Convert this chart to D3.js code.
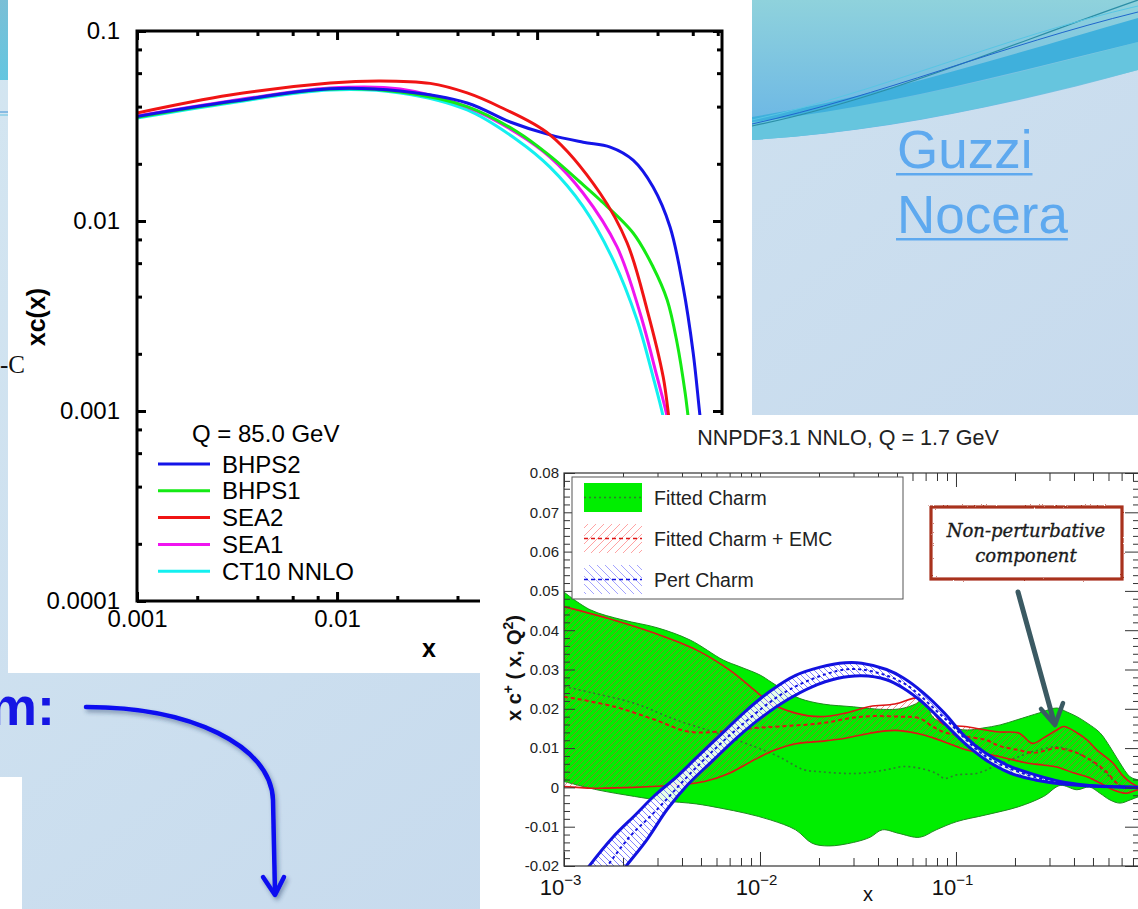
<!DOCTYPE html>
<html>
<head>
<meta charset="utf-8">
<script src="https://cdn.jsdelivr.net/npm/d3@7"></script>
<style>
  html, body { margin: 0; padding: 0; background: #cfe1ef; overflow: hidden; }
  svg { display: block; }
</style>
</head>
<body>
<svg id="slide" width="1138" height="909"></svg>
<script>
// ---------------- data: charm PDF at Q = 85 GeV (log-log panel) ----------------
const leftNames  = ["BHPS2", "BHPS1", "SEA2", "SEA1", "CT10 NNLO"];
const leftColors = ["#1414e8", "#14ea14", "#f01414", "#f014f0", "#14f0f0"];
// [x, xc(x)]
const bhps2 = [[0.001,0.0355],[0.00292,0.0425],[0.00923,0.0497],[0.0207,0.0483],[0.0447,0.0418],[0.0733,0.0332],[0.116,0.0284],[0.170,0.0260],[0.232,0.0245],[0.302,0.0209],[0.380,0.0151],[0.462,0.0093],[0.537,0.0045],[0.603,0.00202],[0.653,0.00093],[0.70,0.0005]];
const bhps1 = [[0.001,0.0352],[0.00292,0.0423],[0.00923,0.0495],[0.0207,0.0478],[0.0447,0.0400],[0.0794,0.0295],[0.116,0.0220],[0.170,0.0155],[0.2065,0.0129],[0.302,0.00865],[0.380,0.00573],[0.447,0.00384],[0.501,0.00228],[0.550,0.00124],[0.569,0.00093],[0.60,0.0006]];
const sea2  = [[0.001,0.0370],[0.00292,0.0460],[0.00923,0.0532],[0.0164,0.0546],[0.0292,0.0530],[0.0447,0.0472],[0.0653,0.0398],[0.116,0.0284],[0.2065,0.0140],[0.282,0.00766],[0.355,0.0034],[0.427,0.00151],[0.457,0.0009],[0.49,0.0005]];
const sea1  = [[0.001,0.0357],[0.00292,0.0428],[0.00923,0.0501],[0.0207,0.0495],[0.0447,0.0398],[0.0794,0.0290],[0.116,0.0217],[0.170,0.0140],[0.251,0.0073],[0.327,0.00328],[0.398,0.00151],[0.447,0.00093],[0.48,0.0006]];
const ct10  = [[0.001,0.0348],[0.00292,0.0418],[0.00923,0.0489],[0.0207,0.0472],[0.0447,0.0384],[0.0794,0.0267],[0.116,0.0192],[0.170,0.0119],[0.240,0.00624],[0.316,0.00301],[0.380,0.00151],[0.427,0.00093],[0.46,0.0006]];
const leftSeries = [bhps2, bhps1, sea2, sea1, ct10];
const leftYTicks = [0.1, 0.01, 0.001, 0.0001];
const leftYLabels = ["0.1", "0.01", "0.001", "0.0001"];
const leftXTicks = [0.001, 0.01, 0.1];
const leftXLabels = ["0.001", "0.01", ""];

// ---------------- data: NNPDF3.1 NNLO charm at Q = 1.7 GeV ----------------
// Fitted Charm band and central value
const greenUpper = [[0.001,0.0497],[0.00136,0.0452],[0.002,0.0426],[0.003,0.0406],[0.0044,0.0375],[0.0065,0.0324],[0.0079,0.0307],[0.0100,0.0286],[0.0114,0.0268],[0.0135,0.0245],[0.016,0.0226],[0.021,0.0212],[0.030,0.0205],[0.040,0.0199],[0.052,0.0200],[0.062,0.0212],[0.068,0.0225],[0.072,0.0205],[0.076,0.0180],[0.093,0.0154],[0.114,0.0146],[0.137,0.0151],[0.168,0.0159],[0.205,0.0172],[0.268,0.0190],[0.327,0.0202],[0.368,0.0192],[0.414,0.0180],[0.466,0.0164],[0.543,0.0139],[0.611,0.0103],[0.687,0.0062],[0.773,0.0027],[0.85,0.0019],[0.9,0.0015]];
const greenLower = [[0.001,0.0015],[0.00147,-0.0006],[0.00229,-0.0023],[0.0032,-0.0034],[0.00473,-0.0042],[0.00633,-0.0053],[0.00848,-0.0066],[0.01135,-0.0083],[0.0152,-0.0108],[0.01845,-0.0142],[0.0224,-0.0149],[0.030,-0.0140],[0.0364,-0.0127],[0.0421,-0.0108],[0.0511,-0.0117],[0.0652,-0.0127],[0.0792,-0.0108],[0.101,-0.0087],[0.142,-0.0070],[0.209,-0.0049],[0.280,-0.0023],[0.340,0.0005],[0.414,-0.0006],[0.48,0.0001],[0.543,-0.0015],[0.611,-0.0032],[0.687,-0.0040],[0.773,-0.0032],[0.85,-0.0024],[0.9,-0.0020]];
const greenCentral = [[0.001,0.0257],[0.00141,0.0240],[0.00229,0.0214],[0.00372,0.0172],[0.00604,0.0138],[0.00934,0.0104],[0.0125,0.0078],[0.0167,0.0045],[0.0203,0.0040],[0.0259,0.0036],[0.033,0.0036],[0.0442,0.0045],[0.0537,0.0053],[0.0652,0.0049],[0.0792,0.0036],[0.0873,0.0023],[0.101,0.0032],[0.129,0.0036],[0.164,0.0058],[0.209,0.0078],[0.250,0.0092],[0.327,0.0103],[0.397,0.0092],[0.48,0.0070],[0.58,0.0037],[0.687,0.0005],[0.847,0.0002],[0.9,0.0001]];
// Fitted Charm + EMC band and central value
const redUpper = [[0.001,0.0460],[0.00179,0.0426],[0.00291,0.0392],[0.00473,0.0350],[0.00698,0.0299],[0.00934,0.0248],[0.01135,0.0214],[0.0152,0.0189],[0.0203,0.0180],[0.0272,0.0189],[0.0364,0.0206],[0.0488,0.0212],[0.0655,0.0228],[0.0737,0.0205],[0.0855,0.0162],[0.111,0.0155],[0.142,0.0146],[0.1675,0.0141],[0.21,0.0138],[0.245,0.0112],[0.28,0.0126],[0.327,0.0146],[0.355,0.0155],[0.414,0.0139],[0.466,0.0121],[0.524,0.0095],[0.632,0.0062],[0.709,0.0030],[0.78,0.0012],[0.85,0.0002],[0.9,0.0000]];
const redLower = [[0.001,0.0002],[0.00141,-0.0002],[0.00229,0.0000],[0.00372,0.0006],[0.00521,0.0015],[0.00698,0.0036],[0.00934,0.0070],[0.0119,0.0095],[0.0152,0.0111],[0.0203,0.0117],[0.0272,0.0125],[0.0364,0.0138],[0.0488,0.0145],[0.0652,0.0136],[0.0764,0.0126],[0.0961,0.0108],[0.1137,0.0095],[0.1675,0.0078],[0.23,0.0062],[0.277,0.0057],[0.327,0.0052],[0.397,0.0037],[0.466,0.0027],[0.543,0.0011],[0.632,-0.0006],[0.742,-0.0015],[0.85,-0.0006],[0.9,-0.0010]];
const redCentral = [[0.001,0.0231],[0.00179,0.0206],[0.00291,0.0172],[0.0043,0.0142],[0.00633,0.0142],[0.00934,0.0151],[0.0125,0.0155],[0.0203,0.0163],[0.033,0.0180],[0.0518,0.0180],[0.0652,0.0176],[0.0764,0.0154],[0.0873,0.0140],[0.1137,0.0129],[0.142,0.0121],[0.1675,0.0105],[0.209,0.0095],[0.25,0.0088],[0.327,0.0100],[0.37,0.0095],[0.414,0.0088],[0.5,0.0066],[0.58,0.0042],[0.65,0.0015],[0.705,0.0002],[0.8,0.0001],[0.9,-0.0004]];
// Perturbative charm band and central value
const blueUpper = [[0.00116,-0.0244],[0.00134,-0.0201],[0.00179,-0.0125],[0.00229,-0.0072],[0.00291,-0.0020],[0.00372,0.0025],[0.00473,0.0075],[0.00633,0.0135],[0.00848,0.0195],[0.01135,0.0246],[0.0152,0.0285],[0.0203,0.0306],[0.0272,0.0317],[0.033,0.0316],[0.0442,0.0300],[0.0537,0.0279],[0.0684,0.0240],[0.0873,0.0189],[0.111,0.0130],[0.142,0.0087],[0.19,0.0053],[0.254,0.0032],[0.34,0.0015],[0.455,0.0006],[0.61,0.0002],[0.9,0.0000]];
const blueLower = [[0.00178,-0.0244],[0.00207,-0.0201],[0.00264,-0.0134],[0.00337,-0.0055],[0.0043,0.0008],[0.00574,0.0068],[0.00769,0.0128],[0.0103,0.0180],[0.0138,0.0223],[0.01845,0.0256],[0.0247,0.0277],[0.033,0.0284],[0.0442,0.0274],[0.0537,0.0253],[0.0684,0.0214],[0.0873,0.0163],[0.111,0.0112],[0.142,0.0070],[0.19,0.0036],[0.254,0.0019],[0.34,0.0009],[0.455,0.0004],[0.9,-0.0001]];
const blueCentral = [[0.00145,-0.0244],[0.00166,-0.0201],[0.00217,-0.0125],[0.00291,-0.0062],[0.00473,0.0051],[0.00769,0.0150],[0.0138,0.0246],[0.0247,0.0296],[0.033,0.0300],[0.0537,0.0266],[0.0873,0.0176],[0.142,0.0079],[0.254,0.0026],[0.455,0.0005],[0.9,0.0000]];
const rightLegend = ["Fitted Charm", "Fitted Charm + EMC", "Pert Charm"];
const rightYTicks = [-0.02, -0.01, 0, 0.01, 0.02, 0.03, 0.04, 0.05, 0.06, 0.07, 0.08];
const rightYLabels = ["-0.02", "-0.01", "0", "0.01", "0.02", "0.03", "0.04", "0.05", "0.06", "0.07", "0.08"];
const rightXTicks = [0.001, 0.01, 0.1];
const rightXExponents = ["\u22123", "\u22122", "\u22121"];

// ---------------- page set-up ----------------
const svg = d3.select("#slide");
const defs = svg.append("defs");

const bgGrad = defs.append("linearGradient").attr("id", "bgGrad")
  .attr("x1", 0).attr("y1", 0).attr("x2", 1).attr("y2", 1);
bgGrad.append("stop").attr("offset", 0).attr("stop-color", "#d4e6f1");
bgGrad.append("stop").attr("offset", 1).attr("stop-color", "#c2d6ec");

const waveGrad = defs.append("linearGradient").attr("id", "waveGrad")
  .attr("x1", 0).attr("y1", 0).attr("x2", 0).attr("y2", 1);
waveGrad.append("stop").attr("offset", 0).attr("stop-color", "#8fd2dc");
waveGrad.append("stop").attr("offset", 1).attr("stop-color", "#68b4e6");

const stripGrad = defs.append("linearGradient").attr("id", "stripGrad")
  .attr("x1", 0).attr("y1", 0).attr("x2", 0).attr("y2", 1);
stripGrad.append("stop").attr("offset", 0).attr("stop-color", "#7bbfd6");
stripGrad.append("stop").attr("offset", 1).attr("stop-color", "#63c6e0");

function hatch(id, d, color, width, opacity, size) {
  const p = defs.append("pattern").attr("id", id)
    .attr("patternUnits", "userSpaceOnUse").attr("width", size).attr("height", size);
  p.append("path").attr("d", d).attr("stroke", color).attr("stroke-width", width).attr("opacity", opacity);
}
const slash = s => `M0,${s} L${s},0 M-1,1 L1,-1 M${s - 1},${s + 1} L${s + 1},${s - 1}`;
const backslash = s => `M0,0 L${s},${s} M-1,${s - 1} L1,${s + 1} M${s - 1},-1 L${s + 1},1`;
hatch("hatchRed", slash(6), "#e03a3a", 0.7, 0.8, 6);
hatch("hatchBlue", backslash(6), "#4646ff", 0.8, 0.85, 6);
hatch("hatchRedKey", slash(8), "#ff8c8c", 0.8, 1, 8);
hatch("hatchBlueKey", backslash(8), "#8c8cff", 0.8, 1, 8);

const shadow = defs.append("filter").attr("id", "arrowShadow")
  .attr("x", "-20%").attr("y", "-20%").attr("width", "140%").attr("height", "140%");
shadow.append("feDropShadow").attr("dx", 2).attr("dy", 3).attr("stdDeviation", 2)
  .attr("flood-color", "#233a66").attr("flood-opacity", 0.45);

const rough = defs.append("filter").attr("id", "roughEdge");
rough.append("feTurbulence").attr("type", "fractalNoise").attr("baseFrequency", 0.9)
  .attr("numOctaves", 1).attr("seed", 3).attr("result", "noise");
rough.append("feDisplacementMap").attr("in", "SourceGraphic").attr("in2", "noise")
  .attr("scale", 2.2).attr("xChannelSelector", "R").attr("yChannelSelector", "G");

// slide background
svg.append("rect").attr("width", 1138).attr("height", 909).attr("fill", "url(#bgGrad)");

// decorative wave, top right
const wave = svg.append("g");
wave.append("path").attr("d", "M752,0 L1138,0 L1138,70 C1000,108 880,132 752,140 Z").attr("fill", "url(#waveGrad)");
wave.append("path").attr("d", "M752,140 C880,132 1000,106 1138,70 L1138,42 C1000,78 880,108 752,120 Z").attr("fill", "#66c5de");
wave.append("path").attr("d", "M752,122 C880,108 1000,76 1138,42 L1138,18 C1000,58 880,96 752,117 Z").attr("fill", "#3fb0dc");
wave.append("path").attr("d", "M752,126 C880,100 1000,48 1138,0").attr("fill", "none").attr("stroke", "#2b8ea6").attr("stroke-width", 1.2);
wave.append("path").attr("d", "M752,124 C880,96 1000,46 1138,12").attr("fill", "none").attr("stroke", "#1f66cc").attr("stroke-width", 1);
wave.append("path").attr("d", "M752,120 C880,92 1000,38 1138,6").attr("fill", "none").attr("stroke", "#58c6e4").attr("stroke-width", 1);

// top-left strip
svg.append("rect").attr("x", 0).attr("y", 0).attr("width", 8).attr("height", 80).attr("fill", "url(#stripGrad)");
svg.append("line").attr("x1", 0).attr("x2", 8).attr("y1", 112).attr("y2", 112).attr("stroke", "#3b8fd4").attr("stroke-width", 1);
svg.append("line").attr("x1", 0).attr("x2", 8).attr("y1", 115).attr("y2", 115).attr("stroke", "#62c2e2").attr("stroke-width", 1);

// author links
const links = svg.append("g").attr("font-family", "'Liberation Sans', Arial, sans-serif")
  .attr("font-size", 53).attr("fill", "#5ea9ef");
[["Guzzi", 168], ["Nocera", 233]].forEach(([name, y]) => {
  const t = links.append("text").attr("x", 897).attr("y", y).text(name);
  const w = t.node().getComputedTextLength();
  links.append("rect").attr("x", 896).attr("y", y + 5).attr("width", w + 1).attr("height", 2.5).attr("fill", "#5ea9ef");
});

// ---------------- left panel: xc(x) on log-log axes ----------------
svg.append("rect").attr("x", 8).attr("y", 0).attr("width", 744).attr("height", 673).attr("fill", "#ffffff");

const fontL = "'Liberation Sans', Arial, Helvetica, sans-serif";
const xL = d3.scaleLog().domain([0.001, 0.84]).range([137, 722]);
const yL = d3.scaleLog().domain([0.0001, 0.1]).range([601, 31]);
const left = svg.append("g");

defs.append("clipPath").attr("id", "clipL").append("rect")
  .attr("x", 137).attr("y", 31).attr("width", 585).attr("height", 570);

const lineL = d3.line().x(d => xL(d[0])).y(d => yL(d[1])).curve(d3.curveCatmullRom.alpha(0.5));
const curvesL = left.append("g").attr("clip-path", "url(#clipL)");
// CT10 at the bottom of the stack, BHPS2 and SEA2 on top
[4, 3, 1, 0, 2].forEach(i => {
  curvesL.append("path").attr("d", lineL(leftSeries[i]))
    .attr("fill", "none").attr("stroke", leftColors[i]).attr("stroke-width", 3);
});

const minorX = [];
[0.001, 0.01, 0.1].forEach(dec => [2, 4, 6, 8].forEach(m => { if (dec * m < 0.84) minorX.push(dec * m); }));
const minorY = [];
[0.0001, 0.001, 0.01].forEach(dec => [2, 4, 6, 8].forEach(m => minorY.push(dec * m)));

function styleAxisL(g) {
  g.select(".domain").remove();
  g.selectAll(".tick line").attr("stroke", "#000").attr("stroke-width", 3);
  g.selectAll(".tick text").attr("fill", "#000").attr("font-size", 24).attr("font-family", fontL);
}
left.append("g").attr("transform", "translate(137,0)")
  .call(d3.axisLeft(yL).tickValues(leftYTicks).tickSize(-9).tickPadding(17)
    .tickFormat((d, i) => leftYLabels[i])).call(styleAxisL);
left.append("g").attr("transform", "translate(137,0)")
  .call(d3.axisLeft(yL).tickValues(minorY).tickSize(-5).tickFormat("")).call(styleAxisL);
left.append("g").attr("transform", "translate(722,0)")
  .call(d3.axisRight(yL).tickValues(leftYTicks).tickSize(-9).tickFormat("")).call(styleAxisL);
left.append("g").attr("transform", "translate(722,0)")
  .call(d3.axisRight(yL).tickValues(minorY).tickSize(-5).tickFormat("")).call(styleAxisL);
left.append("g").attr("transform", "translate(0,601)")
  .call(d3.axisBottom(xL).tickValues(leftXTicks).tickSize(-9).tickPadding(9)
    .tickFormat((d, i) => leftXLabels[i])).call(styleAxisL);
left.append("g").attr("transform", "translate(0,601)")
  .call(d3.axisBottom(xL).tickValues(minorX).tickSize(-5).tickFormat("")).call(styleAxisL);
left.append("g").attr("transform", "translate(0,31)")
  .call(d3.axisTop(xL).tickValues(leftXTicks).tickSize(-9).tickFormat("")).call(styleAxisL);
left.append("g").attr("transform", "translate(0,31)")
  .call(d3.axisTop(xL).tickValues(minorX).tickSize(-5).tickFormat("")).call(styleAxisL);

left.append("rect").attr("x", 137).attr("y", 31).attr("width", 585).attr("height", 570)
  .attr("fill", "none").attr("stroke", "#000").attr("stroke-width", 3);

left.append("text").attr("x", 429).attr("y", 657).attr("text-anchor", "middle")
  .attr("font-family", fontL).attr("font-weight", "bold").attr("font-size", 25).text("x");
left.append("text").attr("transform", "translate(45,317) rotate(-90)").attr("text-anchor", "middle")
  .attr("font-family", fontL).attr("font-weight", "bold").attr("font-size", 25).text("xc(x)");

const legL = left.append("g").attr("font-family", fontL).attr("font-size", 24).attr("fill", "#000");
legL.append("text").attr("x", 192).attr("y", 442).text("Q = 85.0 GeV");
leftNames.forEach((name, i) => {
  const y = 464 + i * 26.8;
  legL.append("line").attr("x1", 158).attr("x2", 210).attr("y1", y).attr("y2", y)
    .attr("stroke", leftColors[i]).attr("stroke-width", 3);
  legL.append("text").attr("x", 222).attr("y", y + 8.5).text(name);
});

// stray slide text at the panel edge
svg.append("text").attr("x", 0).attr("y", 373).attr("font-family", "'Liberation Serif', 'Times New Roman', serif")
  .attr("font-size", 25).attr("fill", "#111").text("-C");

// ---------------- slide caption and curved pointer ----------------
svg.append("text").attr("x", -11).attr("y", 725).attr("font-family", fontL).attr("font-weight", "bold")
  .attr("font-size", 54).attr("fill", "#1616e4").text("m:");
const pointer = svg.append("g").attr("filter", "url(#arrowShadow)").attr("fill", "none")
  .attr("stroke", "#0a0af0").attr("stroke-width", 4.5).attr("stroke-linecap", "round").attr("stroke-linejoin", "round");
pointer.append("path").attr("d", "M86,707 C190,707 271,745 273,800 L275,893");
pointer.append("path").attr("d", "M263,877 L275,895 L284,877");
svg.append("rect").attr("x", 0).attr("y", 777).attr("width", 22).attr("height", 132).attr("fill", "#ffffff");

// ---------------- right panel: NNPDF3.1 charm ----------------
svg.append("rect").attr("x", 480).attr("y", 415).attr("width", 658).attr("height", 494).attr("fill", "#ffffff");

const fontR = "'Liberation Sans', Arial, Helvetica, sans-serif";
const xR = d3.scaleLog().domain([0.001, 0.9]).range([564, 1143]);
const yR = d3.scaleLinear().domain([-0.02, 0.08]).range([866, 473]);
const right = svg.append("g");

defs.append("clipPath").attr("id", "clipR").append("rect")
  .attr("x", 564).attr("y", 473).attr("width", 579).attr("height", 393);

const lineR = d3.line().x(d => xR(d[0])).y(d => yR(d[1])).curve(d3.curveCatmullRom.alpha(0.5));
const band = (up, lo) => lineR(up.concat(lo.slice().reverse())) + "Z";

const data = right.append("g").attr("clip-path", "url(#clipR)");
// fitted charm band
data.append("path").attr("d", band(greenUpper, greenLower))
  .attr("fill", "#00ee00").attr("stroke", "#1f8a1f").attr("stroke-width", 1);
// fitted charm + EMC band
data.append("path").attr("d", band(redUpper, redLower)).attr("fill", "url(#hatchRed)");
data.append("path").attr("d", lineR(greenCentral)).attr("fill", "none")
  .attr("stroke", "#2f7a2f").attr("stroke-width", 1.6).attr("stroke-dasharray", "2,3");
[redUpper, redLower].forEach(s => data.append("path").attr("d", lineR(s)).attr("fill", "none")
  .attr("stroke", "#dd1515").attr("stroke-width", 1.6));
data.append("path").attr("d", lineR(redCentral)).attr("fill", "none")
  .attr("stroke", "#dd1515").attr("stroke-width", 2).attr("stroke-dasharray", "4,3");
// perturbative charm band
data.append("path").attr("d", band(blueUpper, blueLower)).attr("fill", "#ffffff").attr("opacity", 0.9);
data.append("path").attr("d", band(blueUpper, blueLower)).attr("fill", "url(#hatchBlue)");
[blueUpper, blueLower].forEach(s => data.append("path").attr("d", lineR(s)).attr("fill", "none")
  .attr("stroke", "#1212e0").attr("stroke-width", 3));
data.append("path").attr("d", lineR(blueCentral)).attr("fill", "none")
  .attr("stroke", "#1212e0").attr("stroke-width", 2).attr("stroke-dasharray", "3,3");

// axes
const minorRX = [];
[0.001, 0.01, 0.1].forEach(dec => [2, 3, 4, 5, 6, 7, 8, 9].forEach(m => { if (dec * m <= 0.9) minorRX.push(dec * m); }));
const minorRY = d3.range(-0.02, 0.0801, 0.002).filter(v => Math.abs(Math.round(v * 100) - v * 100) > 1e-6);

function styleAxisR(g) {
  g.select(".domain").remove();
  g.selectAll(".tick line").attr("stroke", "#333").attr("stroke-width", 1);
  g.selectAll(".tick text").attr("fill", "#222").attr("font-family", fontR);
}
right.append("g").attr("transform", "translate(564,0)")
  .call(d3.axisLeft(yR).tickValues(rightYTicks).tickSize(-11).tickPadding(5)
    .tickFormat((d, i) => rightYLabels[i])).call(styleAxisR)
  .selectAll(".tick text").attr("font-size", 15);
right.append("g").attr("transform", "translate(564,0)")
  .call(d3.axisLeft(yR).tickValues(minorRY).tickSize(-6).tickFormat("")).call(styleAxisR);
right.append("g").attr("transform", "translate(1143,0)")
  .call(d3.axisRight(yR).tickValues(rightYTicks).tickSize(-18).tickFormat("")).call(styleAxisR);
right.append("g").attr("transform", "translate(1143,0)")
  .call(d3.axisRight(yR).tickValues(minorRY).tickSize(-10).tickFormat("")).call(styleAxisR);
const bottomAxis = right.append("g").attr("transform", "translate(0,866)")
  .call(d3.axisBottom(xR).tickValues(rightXTicks).tickSize(-14).tickPadding(8).tickFormat(""))
  .call(styleAxisR);
bottomAxis.selectAll(".tick").append("text")
  .attr("x", -4).attr("y", 29).attr("text-anchor", "middle").attr("fill", "#111")
  .attr("font-family", fontR).attr("font-size", 22)
  .each(function (d, i) {
    const t = d3.select(this);
    t.append("tspan").text("10");
    t.append("tspan").attr("dy", -10).attr("font-size", 15).text(rightXExponents[i]);
  });
right.append("g").attr("transform", "translate(0,866)")
  .call(d3.axisBottom(xR).tickValues(minorRX).tickSize(-8).tickFormat("")).call(styleAxisR);
right.append("g").attr("transform", "translate(0,473)")
  .call(d3.axisTop(xR).tickValues(rightXTicks).tickSize(-14).tickFormat("")).call(styleAxisR);
right.append("g").attr("transform", "translate(0,473)")
  .call(d3.axisTop(xR).tickValues(minorRX).tickSize(-8).tickFormat("")).call(styleAxisR);

right.append("rect").attr("x", 564).attr("y", 473).attr("width", 579).attr("height", 393)
  .attr("fill", "none").attr("stroke", "#333").attr("stroke-width", 1.2);

right.append("text").attr("x", 848).attr("y", 445).attr("text-anchor", "middle")
  .attr("font-family", fontR).attr("font-size", 21.5).attr("fill", "#222")
  .text("NNPDF3.1 NNLO, Q = 1.7 GeV");
right.append("text").attr("x", 868).attr("y", 901).attr("text-anchor", "middle")
  .attr("font-family", fontR).attr("font-size", 20).attr("fill", "#111").text("x");
const yTitle = right.append("text").attr("transform", "translate(521,668) rotate(-90)")
  .attr("text-anchor", "middle").attr("font-family", fontR).attr("font-weight", "bold")
  .attr("font-size", 20).attr("fill", "#111");
yTitle.append("tspan").text("x c");
yTitle.append("tspan").attr("dy", -8).attr("font-size", 14).text("+");
yTitle.append("tspan").attr("dy", 8).text(" ( x, Q");
yTitle.append("tspan").attr("dy", -8).attr("font-size", 14).text("2");
yTitle.append("tspan").attr("dy", 8).text(")");

// legend
const legR = right.append("g");
legR.append("rect").attr("x", 572).attr("y", 477).attr("width", 331).attr("height", 122)
  .attr("fill", "#ffffff").attr("stroke", "#555").attr("stroke-width", 1);
const swY = [483, 524, 565];
legR.append("rect").attr("x", 584).attr("y", swY[0]).attr("width", 58).attr("height", 29).attr("fill", "#00ee00");
legR.append("line").attr("x1", 584).attr("x2", 642).attr("y1", swY[0] + 14.5).attr("y2", swY[0] + 14.5)
  .attr("stroke", "#2f7a2f").attr("stroke-width", 1.6).attr("stroke-dasharray", "2,3");
legR.append("rect").attr("x", 584).attr("y", swY[1]).attr("width", 58).attr("height", 29).attr("fill", "url(#hatchRedKey)");
legR.append("line").attr("x1", 584).attr("x2", 642).attr("y1", swY[1] + 14.5).attr("y2", swY[1] + 14.5)
  .attr("stroke", "#dd1515").attr("stroke-width", 1.6).attr("stroke-dasharray", "4,3");
legR.append("rect").attr("x", 584).attr("y", swY[2]).attr("width", 58).attr("height", 29).attr("fill", "url(#hatchBlueKey)");
legR.append("line").attr("x1", 584).attr("x2", 642).attr("y1", swY[2] + 14.5).attr("y2", swY[2] + 14.5)
  .attr("stroke", "#1212e0").attr("stroke-width", 1.6).attr("stroke-dasharray", "4,3");
rightLegend.forEach((name, i) => {
  legR.append("text").attr("x", 654).attr("y", swY[i] + 22).attr("font-family", fontR)
    .attr("font-size", 19.5).attr("fill", "#222").text(name);
});

// annotation
const note = right.append("g");
note.append("rect").attr("x", 931).attr("y", 507).attr("width", 191).attr("height", 72)
  .attr("fill", "#ffffff").attr("stroke", "#a8301f").attr("stroke-width", 3.2).attr("filter", "url(#roughEdge)");
const noteText = note.append("text").attr("text-anchor", "middle").attr("font-family", "'DejaVu Serif', 'Liberation Serif', serif")
  .attr("font-style", "italic").attr("font-size", 18).attr("fill", "#1a1a1a")
  .attr("stroke", "#1a1a1a").attr("stroke-width", 0.35);
noteText.append("tspan").attr("x", 1026).attr("y", 537).text("Non-perturbative");
noteText.append("tspan").attr("x", 1026).attr("y", 562).text("component");
const pointerR = note.append("g").attr("fill", "none").attr("stroke", "#3b5a63")
  .attr("stroke-linecap", "round").attr("stroke-linejoin", "round");
pointerR.append("path").attr("d", "M1018,592 L1054,722").attr("stroke-width", 5);
pointerR.append("path").attr("d", "M1041,709 L1055,725 L1063,703").attr("stroke-width", 4.5);
</script>
</body>
</html>
